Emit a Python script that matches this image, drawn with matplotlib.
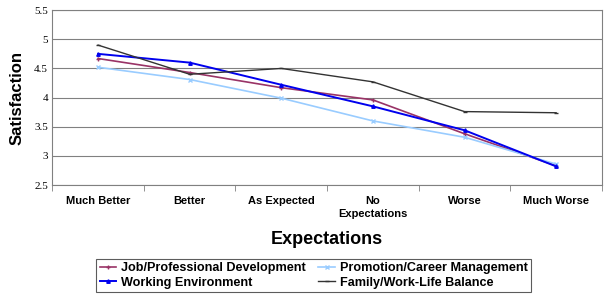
import matplotlib.pyplot as plt

# data
categories = ['Much Better', 'Better', 'As Expected', 'No\nExpectations', 'Worse', 'Much Worse']
job_dev = [4.67, 4.43, 4.17, 3.96, 3.38, 2.83]
promotion = [4.52, 4.31, 3.99, 3.60, 3.32, 2.86]
work_env = [4.75, 4.60, 4.22, 3.85, 3.44, 2.82]
family = [4.90, 4.40, 4.50, 4.27, 3.76, 3.74]

plt.rcParams['font.family'] = ['Liberation Sans', 'DejaVu Sans']

fig = plt.figure(figsize=(6.08, 2.98), dpi=100)
ax = fig.add_axes([0.086, 0.379, 0.904, 0.587])

x = range(len(categories))
ax.plot(x, job_dev, color='#993366', marker='+', markersize=3, lw=1.2,
        label='Job/Professional Development')
ax.plot(x, promotion, color='#99CCFF', marker='x', markersize=2.5, lw=1.2,
        label='Promotion/Career Management')
ax.plot(x, work_env, color='#0000EE', marker='^', markersize=2.5, lw=1.4,
        label='Working Environment')
ax.plot(x, family, color='#333333', marker='_', markersize=3, lw=1.0,
        label='Family/Work-Life Balance')

ax.set_xlim(-0.5, len(categories) - 0.5)
ax.set_ylim(2.5, 5.5)
ax.set_yticks([2.5, 3, 3.5, 4, 4.5, 5, 5.5])
ax.set_yticklabels(['2.5', '3', '3.5', '4', '4.5', '5', '5.5'],
                   family='Liberation Serif', fontsize=8)
ax.tick_params(axis='y', length=0, pad=3)
ax.yaxis.grid(True, color='#808080', lw=0.8)
ax.set_axisbelow(True)

ax.set_xticks(list(x))
ax.set_xticklabels(categories, fontsize=8, fontweight='bold', linespacing=1.3)
ax.set_xticks([i + 0.5 for i in range(-1, len(categories))], minor=True)
ax.tick_params(axis='x', which='major', length=0, pad=8)
ax.tick_params(axis='x', which='minor', length=4, color='#808080', direction='out')

for s in ax.spines.values():
    s.set_color('#808080')
    s.set_linewidth(0.8)

ax.set_ylabel('Satisfaction', fontsize=12, fontweight='bold', labelpad=7)
ax.set_xlabel('Expectations', fontsize=13, fontweight='bold', labelpad=9)

handles, labels = ax.get_legend_handles_labels()
order = [0, 2, 1, 3]
leg = fig.legend([handles[i] for i in order], [labels[i] for i in order],
                 loc='lower center', bbox_to_anchor=(0.516, 0.0), ncol=2,
                 frameon=True, fancybox=False,
                 prop={'weight': 'bold', 'size': 9.1},
                 handlelength=1.3, handletextpad=0.4, columnspacing=1.0,
                 borderpad=0.25, labelspacing=0.2)
leg.get_frame().set_edgecolor('#333333')
leg.get_frame().set_linewidth(0.8)

fig.savefig('out.png', dpi=100)
